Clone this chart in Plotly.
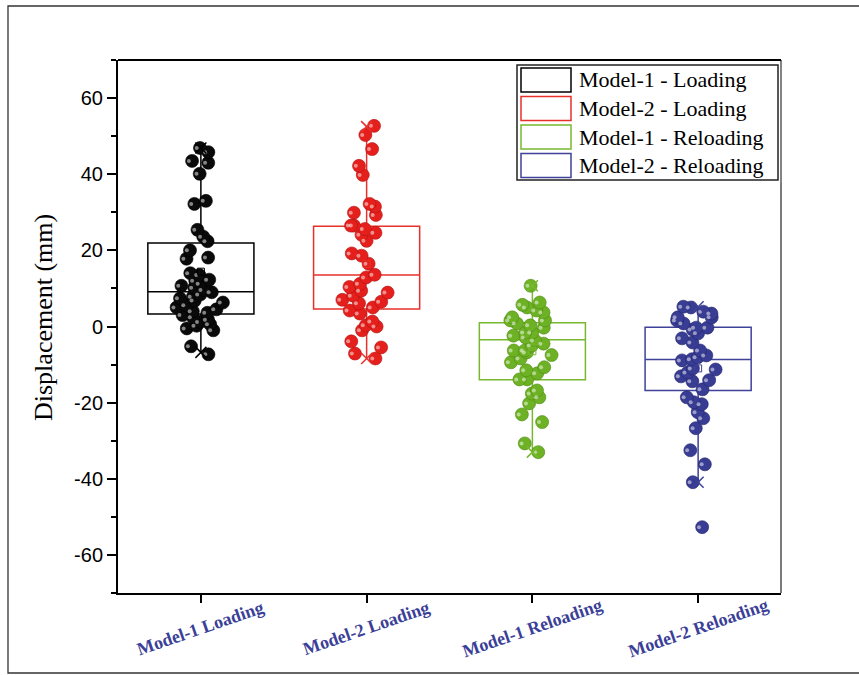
import plotly.graph_objects as go

# ---------------- data ----------------
categories = ["Model-1 Loading", "Model-2 Loading", "Model-1 Reloading", "Model-2 Reloading"]
legend_names = ["Model-1 - Loading", "Model-2 - Loading", "Model-1 - Reloading", "Model-2 - Reloading"]

g1 = [46.9, 45.8, 43.5, 43.0, 40.1, 33.0, 32.2, 25.4, 23.6, 22.4, 20.0, 18.1, 17.8, 14.0,
      13.5, 12.3, 12.0, 11.2, 10.7, 10.2, 9.6, 9.0, 8.4, 7.8, 7.4, 6.8, 6.3, 5.6, 5.0, 4.5,
      4.0, 3.6, 3.0, 2.4, 1.8, 1.2, 0.6, 0.2, -0.5, -1.0, -5.2, -7.3]
g2 = [52.7, 50.3, 46.6, 42.2, 39.8, 32.2, 31.5, 29.9, 29.3, 26.5, 26.5, 25.6, 24.6, 24.1,
      22.5, 19.2, 18.6, 16.5, 13.6, 12.9, 11.2, 10.4, 9.4, 8.9, 8.1, 7.0, 6.5, 6.1, 5.0,
      4.2, 3.4, 1.3, 0.3, 0.0, -1.0, -3.9, -5.5, -7.1, -8.4]
g3 = [10.7, 6.3, 5.7, 5.0, 4.2, 3.7, 2.4, 1.6, 1.6, 0.8, 0.3, -0.3, -1.6, -1.6, -2.4, -2.9,
      -3.7, -4.5, -5.0, -6.3, -6.3, -6.8, -7.5, -8.4, -9.4, -10.7, -11.5, -12.3, -13.9,
      -13.9, -16.8, -17.6, -18.6, -20.2, -23.1, -25.1, -30.7, -33.0]
g4 = [5.0, 5.2, 3.9, 3.4, 2.4, 2.4, 1.6, 0.8, -0.3, -0.3, -0.8, -1.8, -3.1, -4.2, -6.3,
      -7.6, -8.1, -8.6, -8.9, -11.0, -11.3, -12.1, -13.1, -14.1, -14.4, -16.5, -18.6,
      -19.9, -20.4, -22.5, -24.1, -26.7, -32.5, -36.2, -40.9, -52.7]
groups = [g1, g2, g3, g4]

q1 = [3.3, 4.6, -14.0, -16.8]
median = [9.1, 13.5, -3.5, -8.7]
q3 = [21.9, 26.3, 1.0, -0.2]
lowerfence = [-6.8, -8.4, -33.0, -40.9]
upperfence = [46.9, 52.5, 10.7, 5.2]
means = [14.4, 16.4, -6.5, -11.0]

y_ticks = [-60, -40, -20, 0, 20, 40, 60]
y_tick_labels = ["-60", "-40", "-20", "0", "20", "40", "60"]

# ---------------- styles ----------------
box_colors = ["#000000", "#E8302B", "#77B82F", "#3E4298"]
pt_colors = ["#0a0a0a", "#E5201C", "#6DB224", "#383C93"]
pt_edge = ["#000000", "#B01010", "#4E8A12", "#23266E"]
label_color = "#3B3F98"
SERIF = "Liberation Serif, Times New Roman, serif"
SANS = "Liberation Sans, Arial, sans-serif"

L, R, T, B = 118, 78, 60, 82
W, H = 859, 675
PW, PH = W - L - R, H - T - B


def px(x):
    return (x - L) / PW


def py(y):
    return (H - B - y) / PH


fig = go.Figure()
BW = 0.64

for i, cat in enumerate(categories):
    fig.add_trace(go.Box(
        x=[cat], q1=[q1[i]], median=[median[i]], q3=[q3[i]],
        lowerfence=[lowerfence[i]], upperfence=[upperfence[i]],
        boxpoints=False, width=BW, whiskerwidth=0,
        fillcolor="rgba(0,0,0,0)", line=dict(color=box_colors[i], width=1.5),
        showlegend=False, hoverinfo="skip"))
    fig.add_trace(go.Scatter(
        x=[cat], y=[means[i]], mode="markers", showlegend=False, hoverinfo="skip",
        marker=dict(symbol="square-open", size=7, color=box_colors[i], line=dict(width=1))))
    fig.add_trace(go.Scatter(
        x=[cat, cat], y=[lowerfence[i], upperfence[i]], mode="markers", showlegend=False,
        hoverinfo="skip",
        marker=dict(symbol="x-thin", size=11, line=dict(width=1.5, color=box_colors[i]))))

for i, cat in enumerate(categories):
    data = groups[i]
    fig.add_trace(go.Box(
        x=[cat] * len(data), y=data, boxpoints="all", jitter=0.47, pointpos=0, width=BW,
        fillcolor="rgba(0,0,0,0)", line=dict(width=0, color="rgba(0,0,0,0)"),
        marker=dict(size=13, color=pt_colors[i], line=dict(width=0.6, color=pt_edge[i])),
        showlegend=False, hoverinfo="y"))
    fig.add_trace(go.Box(
        x=[cat] * len(data), y=data, boxpoints="all", jitter=0.47, pointpos=-0.06, width=BW,
        fillcolor="rgba(0,0,0,0)", line=dict(width=0, color="rgba(0,0,0,0)"),
        marker=dict(size=4, color="rgba(255,255,255,0.5)", line=dict(width=0)),
        showlegend=False, hoverinfo="skip"))

shapes = []
annotations = []

# outer frame
shapes.append(dict(type="rect", xref="paper", yref="paper",
                   x0=px(8), x1=px(866), y0=py(673), y1=py(6),
                   line=dict(color="#333333", width=1.3), layer="below"))
# right axis (gray)
shapes.append(dict(type="line", xref="paper", yref="paper", x0=1, x1=1, y0=0, y1=1,
                   line=dict(color="#7a7a7a", width=2)))

# manual legend
shapes.append(dict(type="rect", xref="paper", yref="paper",
                   x0=px(517), x1=px(778), y0=py(180), y1=py(65),
                   fillcolor="white", line=dict(color="#222222", width=1.5)))
shapes.append(dict(type="line", xref="paper", yref="paper", x0=px(781), x1=px(781),
                   y0=py(183), y1=py(62), line=dict(color="#888888", width=1.5)))
row_y = [80, 108.5, 137, 165.5]
for i, name in enumerate(legend_names):
    shapes.append(dict(type="rect", xref="paper", yref="paper",
                       x0=px(521), x1=px(571), y0=py(row_y[i] + 12), y1=py(row_y[i] - 12),
                       line=dict(color=box_colors[i], width=1.5)))
    annotations.append(dict(xref="paper", yref="paper", x=px(577), y=py(row_y[i]),
                            text=name, showarrow=False, xanchor="left", yanchor="middle",
                            font=dict(family=SERIF, size=22, color="#000000")))

# rotated category labels
for cat in categories:
    annotations.append(dict(xref="x", yref="paper", x=cat, y=py(628), text="<b>%s</b>" % cat,
                            showarrow=False, textangle=-19, xanchor="center", yanchor="middle",
                            font=dict(family=SERIF, size=18, color=label_color)))

# y title
annotations.append(dict(xref="paper", yref="paper", x=px(43), y=py(318),
                        text="Displacement (mm)", showarrow=False, textangle=-90,
                        xanchor="center", yanchor="middle",
                        font=dict(family=SERIF, size=26, color="#000000")))

fig.update_layout(
    width=W, height=H, margin=dict(l=L, r=R, t=T, b=B),
    paper_bgcolor="white", plot_bgcolor="white", boxmode="overlay",
    showlegend=False, shapes=shapes, annotations=annotations,
    xaxis=dict(type="category", categoryorder="array", categoryarray=categories,
               range=[-0.5, 3.5], showticklabels=False, ticks="outside", ticklen=8,
               tickwidth=1.5, tickcolor="#000", showline=True, linecolor="#000",
               linewidth=2, mirror=False, showgrid=False, zeroline=False),
    yaxis=dict(range=[-70, 70], tickvals=y_ticks, ticktext=y_tick_labels, ticks="outside",
               ticklen=9, tickwidth=1.5, tickcolor="#000", showline=True, linecolor="#000",
               linewidth=2, showgrid=False, zeroline=False,
               tickfont=dict(family=SANS, size=20, color="#000"),
               minor=dict(dtick=10, ticks="outside", ticklen=5, tickwidth=1.5,
                          tickcolor="#000", showgrid=False)),
)
# top axis line
fig.add_shape(type="line", xref="paper", yref="paper", x0=0, x1=1, y0=1, y1=1,
              line=dict(color="#000", width=2))

fig.write_html("out.html")
